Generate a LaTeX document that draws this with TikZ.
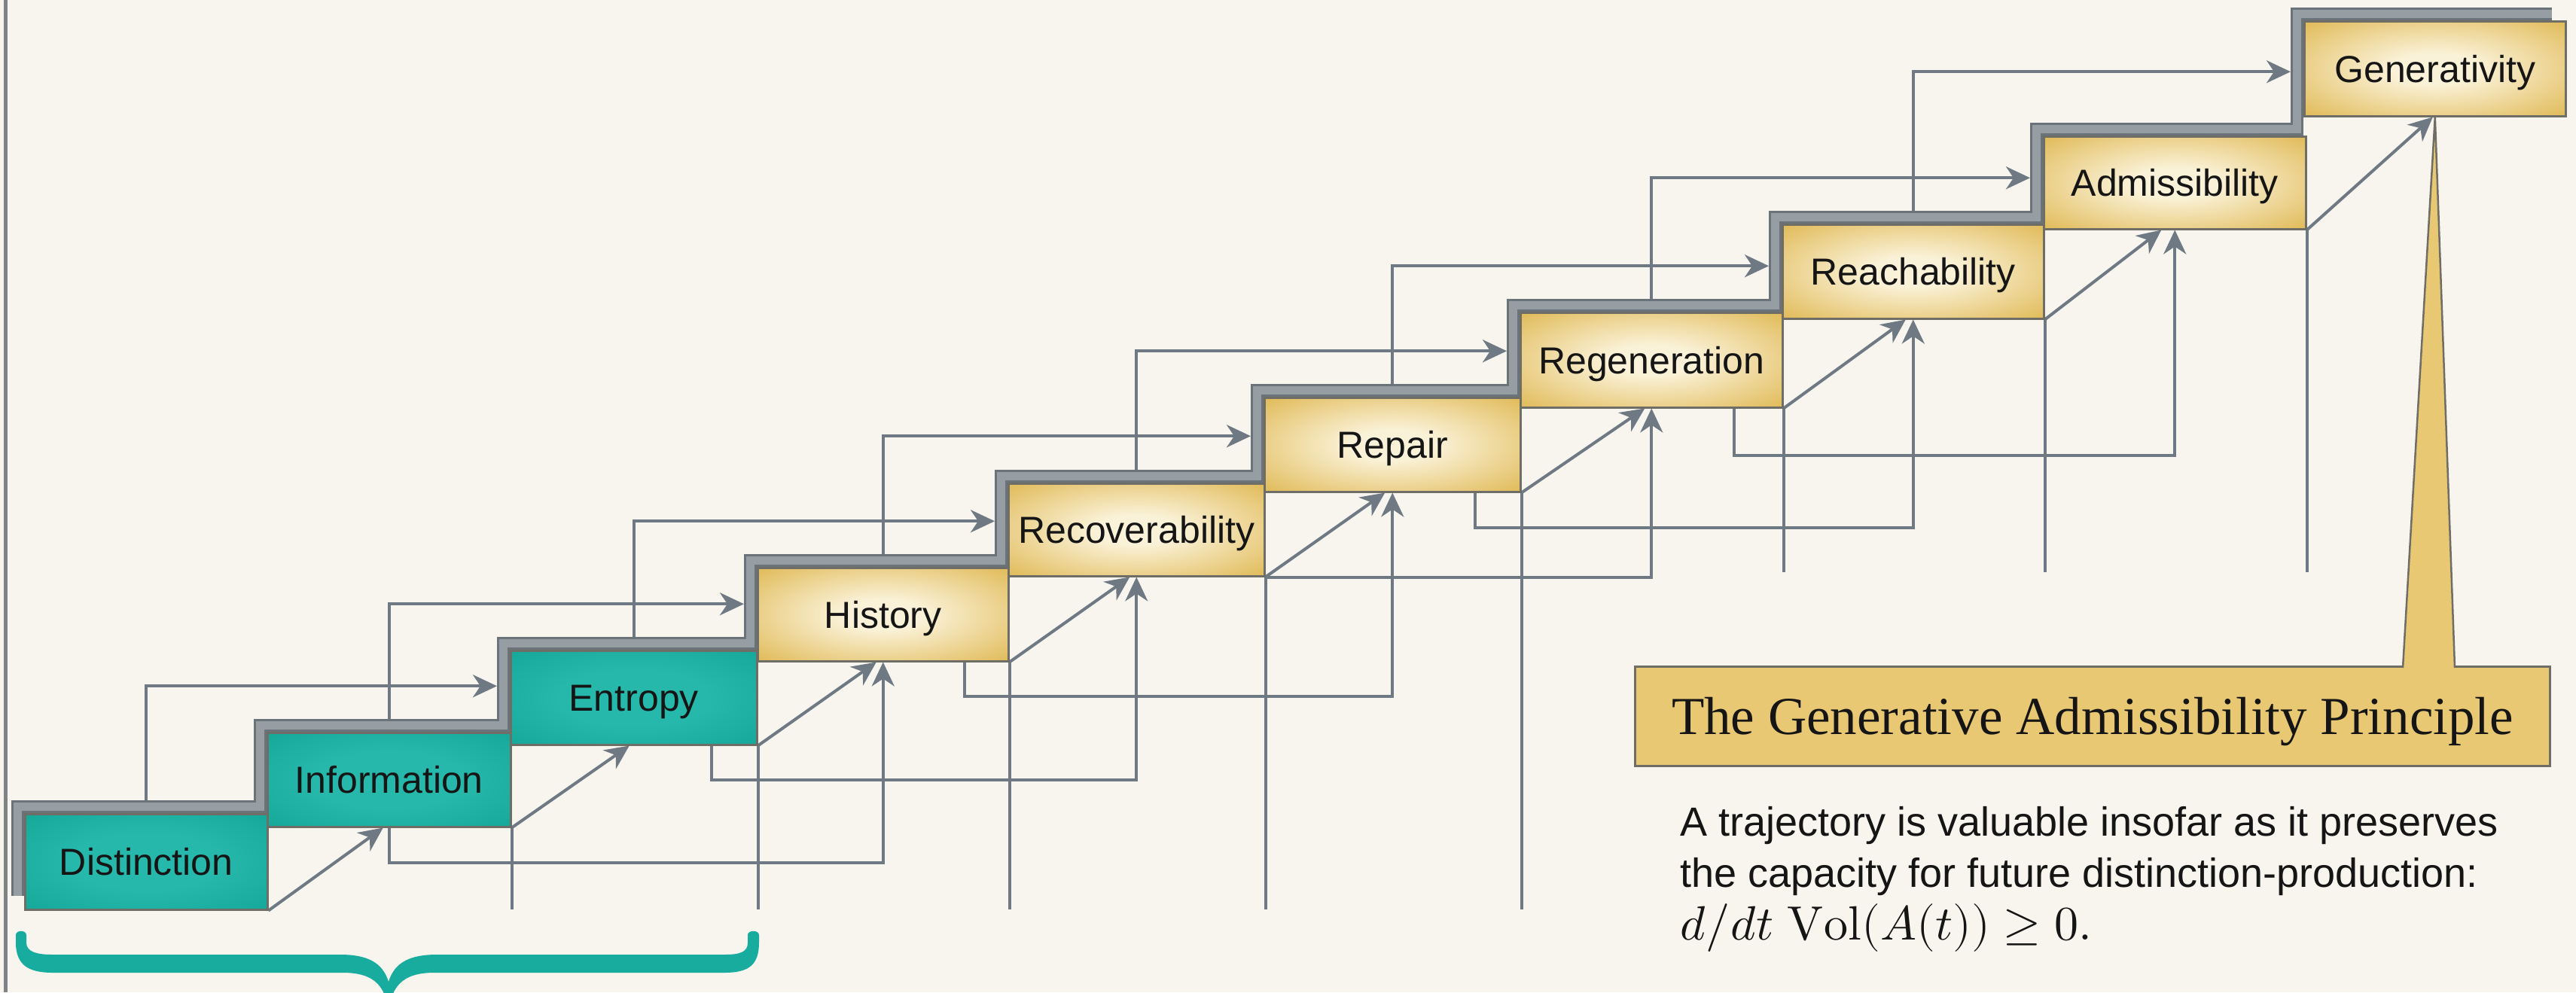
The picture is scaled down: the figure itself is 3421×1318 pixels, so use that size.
\documentclass[tikz,border=0pt]{standalone}
\usepackage{fontspec}
\usepackage{unicode-math}
\setmainfont{Liberation Sans}
\newfontfamily\titlefont{Liberation Serif}
\usetikzlibrary{arrows.meta,calc}
\definecolor{bgc}{HTML}{F7F5EE}
\definecolor{linec}{HTML}{6E7983}
\definecolor{banddark}{HTML}{6B737A}
\definecolor{bandlight}{HTML}{969DA3}
\definecolor{goldin}{HTML}{FAF2D8}
\definecolor{goldout}{HTML}{E0B955}
\definecolor{tealin}{HTML}{26B9AB}
\definecolor{tealout}{HTML}{0EA192}
\definecolor{boxline}{HTML}{6F6E66}
\definecolor{textc}{HTML}{151515}
\definecolor{princfill}{HTML}{E8C873}
\definecolor{bracec}{HTML}{17AC9E}
\definecolor{edgegray}{HTML}{808385}
\pgfdeclareradialshading{goldglow}{\pgfpoint{0bp}{0bp}}{color(0bp)=(goldin); color(8bp)=(goldin); color(36bp)=(goldout); color(72bp)=(goldout)}
\pgfdeclareradialshading{tealglow}{\pgfpoint{0bp}{0bp}}{color(0bp)=(tealin); color(15bp)=(tealin); color(45bp)=(tealout); color(72bp)=(tealout)}
\begin{document}
\begin{tikzpicture}[x=1pt,y=-1pt,
  stage/.style={rectangle, draw=boxline, line width=2.5pt, inner sep=0pt, text=textc,
    font=\fontsize{50}{58}\selectfont, text height=36pt, text depth=0pt, anchor=north west},
  goldstage/.style={stage, shade, shading=goldglow},
  tealstage/.style={stage, shade, shading=tealglow},
  conn/.style={draw=linec, line width=4pt},
  arr/.style={conn, -{Stealth[length=32pt,width=30pt,inset=10pt]}},
  desc/.style={inner sep=0pt, anchor=base west, text=textc, font=\fontsize{54}{64}\selectfont}]
\useasboundingbox (0,0) rectangle (3421,1318);
\clip (0,0) rectangle (3421,1318);
\fill[bgc] (0,0) rectangle (3421,1318);
\draw[edgegray, line width=5pt] (7,0) -- (7,1318);

% stage boxes (placed first so that they can be named; redrawn on top later)
\path
 (32,1080) node[tealstage, minimum width=322pt, minimum height=127pt] (dist) {}
 (354,972) node[tealstage, minimum width=323pt, minimum height=125pt] (info) {}
 (677,863) node[tealstage, minimum width=327pt, minimum height=125pt] (ent) {}
 (1005,753) node[goldstage, minimum width=333pt, minimum height=124pt] (hist) {}
 (1338,641) node[goldstage, minimum width=340pt, minimum height=123pt] (rec) {}
 (1678,527) node[goldstage, minimum width=340pt, minimum height=125pt] (rep) {}
 (2018,414) node[goldstage, minimum width=348pt, minimum height=126pt] (regen) {}
 (2366,297) node[goldstage, minimum width=347pt, minimum height=125pt] (reach) {}
 (2713,180) node[goldstage, minimum width=348pt, minimum height=123pt] (adm) {}
 (3059,27) node[goldstage, minimum width=347pt, minimum height=126pt] (gen) {};

\coordinate (lowbase) at (0,1208);
\coordinate (highbase) at (0,760);

% drop lines from lower right corners
\foreach \b in {info,ent,hist,rec,rep}{\draw[conn] (\b.south east) -- (\b.south east |- lowbase);}
\foreach \b in {regen,reach,adm}{\draw[conn] (\b.south east) -- (\b.south east |- highbase);}

% upper skip connectors
\draw[arr] (dist.north) |- ($(ent.west)+(-17,-15.5)$);
\draw[arr] (info.north) |- ($(hist.west)+(-17,-14)$);
\draw[arr] (ent.north) |- ($(rec.west)+(-17,-11.5)$);
\draw[arr] (hist.north) |- ($(rep.west)+(-17,-11.5)$);
\draw[arr] (rec.north) |- ($(regen.west)+(-17,-12)$);
\draw[arr] (rep.north) |- ($(reach.west)+(-17,-7.5)$);
\draw[arr] (regen.north) |- ($(adm.west)+(-17,-6.5)$);
\draw[arr] (reach.north) |- ($(gen.west)+(-17,4)$);

% lower skip connectors
\draw[arr] (info.south) -- ++(0,46) -| (hist.south);
\draw[arr] ($(ent.south east)+(-62,0)$) -- ++(0,45) -| (rec.south);
\draw[arr] ($(hist.south east)+(-60,0)$) -- ++(0,45) -| (rep.south);
\draw[arr] (rec.south east) -| (regen.south);
\draw[arr] ($(rep.south east)+(-62,0)$) -- ++(0,46) -| (reach.south);
\draw[arr] ($(regen.south east)+(-66,0)$) -- ++(0,62) -| (adm.south);

% diagonal step connectors
\draw[arr] (dist.south east) -- ($(info.south)+(-8,0)$);
\draw[arr] (info.south east) -- ($(ent.south)+(-6,0)$);
\draw[arr] (ent.south east) -- ($(hist.south)+(-9,0)$);
\draw[arr] (hist.south east) -- ($(rec.south)+(-9,0)$);
\draw[arr] (rec.south east) -- ($(rep.south)+(-10,0)$);
\draw[arr] (rep.south east) -- ($(regen.south)+(-9,0)$);
\draw[arr] (regen.south east) -- ($(reach.south)+(-10,0)$);
\draw[arr] (reach.south east) -- ($(adm.south)+(-18,0)$);
\draw[arr] (adm.south east) -- ($(gen.south)+(-3,0)$);

% grey staircase band
\foreach \w/\c in {17pt/banddark, 11pt/bandlight}{
\draw[\c, line width=\w, line join=miter]
 (23.5,1190) -- (23.5,1071.5) -- (345.5,1071.5) -- (345.5,963.5) -- (668.5,963.5)
 -- (668.5,854.5) -- (996.5,854.5) -- (996.5,744.5) -- (1329.5,744.5) -- (1329.5,632.5)
 -- (1669.5,632.5) -- (1669.5,518.5) -- (2009.5,518.5) -- (2009.5,405.5) -- (2357.5,405.5)
 -- (2357.5,288.5) -- (2704.5,288.5) -- (2704.5,171.5) -- (3050.5,171.5) -- (3050.5,18.5)
 -- (3389,18.5);}

% stage boxes with labels
\path
 (32,1080) node[tealstage, minimum width=322pt, minimum height=127pt] (distL) {Distinction}
 (354,972) node[tealstage, minimum width=323pt, minimum height=125pt] (infoL) {Information}
 (677,863) node[tealstage, minimum width=327pt, minimum height=125pt] (entL) {Entropy}
 (1005,753) node[goldstage, minimum width=333pt, minimum height=124pt] (histL) {History}
 (1338,641) node[goldstage, minimum width=340pt, minimum height=123pt] (recL) {Recoverability}
 (1678,527) node[goldstage, minimum width=340pt, minimum height=125pt] (repL) {Repair}
 (2018,414) node[goldstage, minimum width=348pt, minimum height=126pt] (regenL) {Regeneration}
 (2366,297) node[goldstage, minimum width=347pt, minimum height=125pt] (reachL) {Reachability}
 (2713,180) node[goldstage, minimum width=348pt, minimum height=123pt] (admL) {Admissibility}
 (3059,27) node[goldstage, minimum width=347pt, minimum height=126pt] (genL) {Generativity};

% principle box and pointer
\node[rectangle, anchor=north west, fill=princfill, draw=boxline, line width=3pt, inner sep=0pt,
  minimum width=1215pt, minimum height=132pt, text=textc,
  font=\titlefont\fontsize{71}{80}\selectfont, text height=47pt, text depth=0pt]
  (gap) at (2170,884) {The Generative Admissibility Principle};
\coordinate (spL) at (3191,887);
\coordinate (spR) at (3260,887);
\fill[princfill] (gen.south) -- (spL) -- (spR) -- cycle;
\draw[boxline, line width=2.5pt, line join=round] (spL) -- (gen.south) -- (spR);

% description
\node[desc] (d1) at (2231,1110) {A trajectory is valuable insofar as it preserves};
\node[desc] (d2) at (2231,1178) {the capacity for future distinction-production:};
\node[desc, font=\fontsize{64}{72}\selectfont] (d3) at (2231,1248) {$d/dt\ \symup{Vol}(A(t)) \geq 0.$};

% brace
\fill[bracec] (21,1242) -- (21,1252) .. controls (21,1282) and (38,1292) .. (70,1292)
 -- (455,1292) .. controls (492,1292) and (510,1305) .. (516,1340)
 .. controls (522,1305) and (540,1292) .. (577,1292) -- (962,1292)
 .. controls (994,1292) and (1008,1282) .. (1008,1252) -- (1008,1242)
 .. controls (1008,1235) and (993,1235) .. (993,1242) -- (993,1252)
 .. controls (993,1264) and (984,1268) .. (962,1268) -- (580,1268)
 .. controls (545,1268) and (524,1278) .. (516,1304)
 .. controls (508,1278) and (487,1268) .. (452,1268) -- (70,1268)
 .. controls (48,1268) and (35,1264) .. (35,1252) -- (35,1242)
 .. controls (35,1235) and (21,1235) .. (21,1242) -- cycle;
\end{tikzpicture}
\end{document}
